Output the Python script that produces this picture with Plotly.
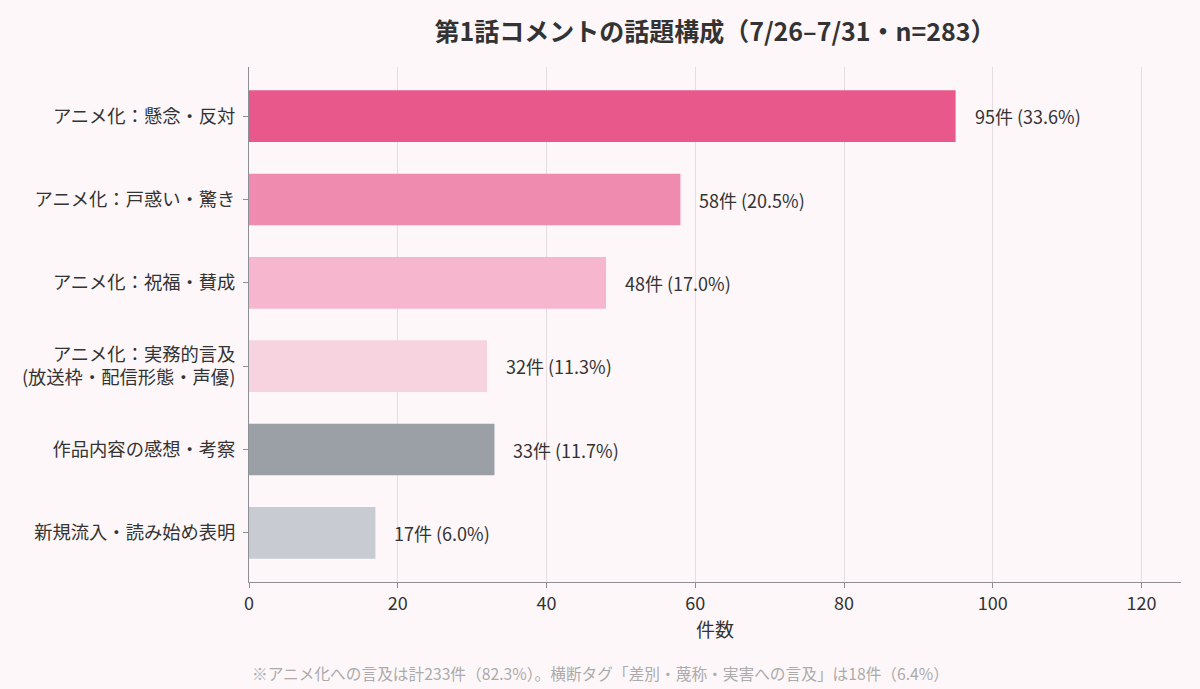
import plotly.graph_objects as go

# topic categories, top to bottom
categories = [
    "アニメ化：懸念・反対",
    "アニメ化：戸惑い・驚き",
    "アニメ化：祝福・賛成",
    "アニメ化：実務的言及<br>(放送枠・配信形態・声優)",
    "作品内容の感想・考察",
    "新規流入・読み始め表明",
]
counts = [95, 58, 48, 32, 33, 17]
shares = [33.6, 20.5, 17.0, 11.3, 11.7, 6.0]
bar_colors = ["#E8588A", "#EE8BAF", "#F5B6CE", "#F6D3DF", "#9BA0A6", "#C8CCD2"]

title_text = "<b>第1話コメントの話題構成（7/26–7/31・n=283）</b>"
note_text = "※アニメ化への言及は計233件（82.3%）。横断タグ「差別・蔑称・実害への言及」は18件（6.4%）"

FONT = "Noto Sans CJK JP"
bg = "#FDF7F9"
W, H = 1200, 689
L, R, T, B = 249, 19, 67, 107

fig = go.Figure()
fig.add_trace(
    go.Bar(
        x=counts,
        y=categories,
        orientation="h",
        width=0.62,
        marker=dict(color=bar_colors, line=dict(width=0)),
        hoverinfo="skip",
    )
)

# value labels to the right of each bar
for cat, n, pct in zip(categories, counts, shares):
    fig.add_annotation(
        x=n,
        y=cat,
        text=f"{n}件 ({pct:.1f}%)",
        showarrow=False,
        xanchor="left",
        xshift=17,
        font=dict(family=FONT, size=18, color="#333333"),
    )

# footnote, centred on the whole page rather than the plot area
fig.add_annotation(
    x=(W / 2 - L) / (W - L - R),
    y=-(673 - (H - B)) / (H - T - B),
    xref="paper",
    yref="paper",
    text=note_text,
    showarrow=False,
    xanchor="center",
    yanchor="middle",
    font=dict(family=FONT, size=15.7, color="#ABABAB"),
)

fig.update_layout(
    width=W,
    height=H,
    margin=dict(l=L, r=R, t=T, b=B),
    paper_bgcolor=bg,
    plot_bgcolor=bg,
    showlegend=False,
    font=dict(family=FONT, size=18, color="#333333"),
    title=dict(
        text=title_text,
        x=0.5,
        xref="paper",
        xanchor="center",
        y=1 - 32 / H,
        yanchor="middle",
        font=dict(family=FONT, size=25, color="#333333"),
    ),
)

fig.update_xaxes(
    range=[0, 125.3],
    tickvals=[0, 20, 40, 60, 80, 100, 120],
    showgrid=True,
    gridcolor="#E6DDE1",
    gridwidth=1,
    zeroline=False,
    showline=True,
    linecolor="#8C9096",
    linewidth=1,
    ticks="outside",
    ticklen=5,
    tickcolor="#8C9096",
    tickfont=dict(family=FONT, size=18, color="#333333"),
    title=dict(text="件数", font=dict(family=FONT, size=19, color="#333333"), standoff=6),
)

fig.update_yaxes(
    categoryorder="array",
    categoryarray=categories,
    autorange=False,
    range=[5.59, -0.59],
    showgrid=False,
    zeroline=False,
    showline=True,
    linecolor="#8C9096",
    linewidth=1,
    ticks="outside",
    ticklen=5,
    tickcolor="#8C9096",
    ticklabelstandoff=4,
    tickfont=dict(family=FONT, size=18.3, color="#333333"),
)

# drop the browser's default body margin so the 1200x689 figure fits the window
fig.write_html(
    "out.html",
    config={"displayModeBar": False},
    post_script="document.body.style.margin='0';",
)
